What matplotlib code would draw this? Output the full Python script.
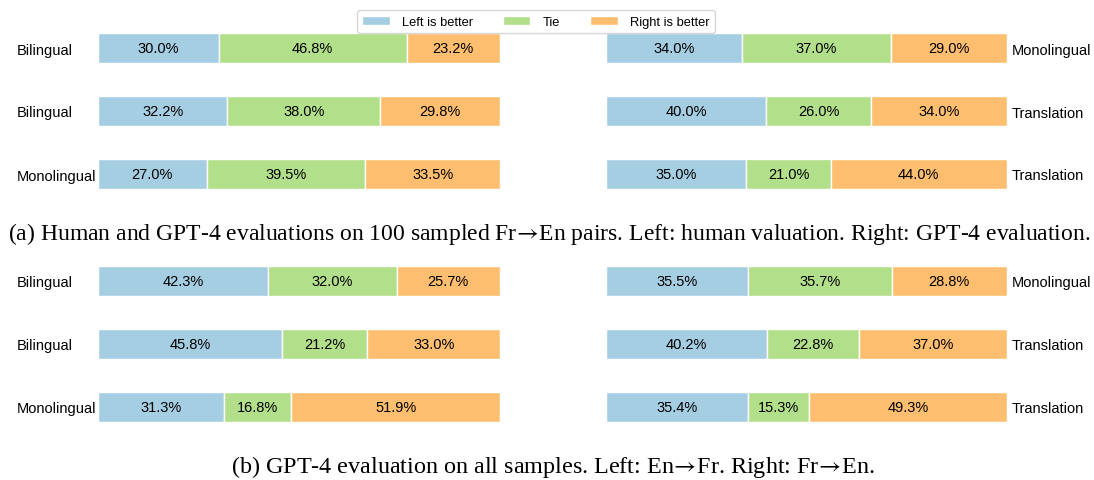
import matplotlib
matplotlib.use("Agg")
import matplotlib.pyplot as plt
import numpy as np

W, H = 1094, 481
plt.rcParams['font.family'] = ['Liberation Sans', 'DejaVu Sans']
plt.rcParams['mathtext.fontset'] = 'stix'

series_names = ["Left is better", "Tie", "Right is better"]
colors = ["#a6cee3", "#b2df8a", "#fdbf6f"]

# top row (a)
a_left_labels = ["Bilingual", "Bilingual", "Monolingual"]
a_left_left = [30.0, 32.2, 27.0]
a_left_tie = [46.8, 38.0, 39.5]
a_left_right = [23.2, 29.8, 33.5]

a_right_labels = ["Monolingual", "Translation", "Translation"]
a_right_left = [34.0, 40.0, 35.0]
a_right_tie = [37.0, 26.0, 21.0]
a_right_right = [29.0, 34.0, 44.0]

# bottom row (b)
b_left_labels = ["Bilingual", "Bilingual", "Monolingual"]
b_left_left = [42.3, 45.8, 31.3]
b_left_tie = [32.0, 21.2, 16.8]
b_left_right = [25.7, 33.0, 51.9]

b_right_labels = ["Monolingual", "Translation", "Translation"]
b_right_left = [35.5, 40.2, 35.4]
b_right_tie = [35.7, 22.8, 15.3]
b_right_right = [28.8, 37.0, 49.3]

arrow = r"$\!\rightarrow\!$"
caption_a = ("(a) Human and GPT-4 evaluations on 100 sampled Fr" + arrow +
             "En pairs. Left: human valuation. Right: GPT-4 evaluation.")
caption_b = ("(b) GPT-4 evaluation on all samples. Left: En" + arrow +
             "Fr. Right: Fr" + arrow + "En.")

fig = plt.figure(figsize=(W / 100, H / 100), dpi=100)


def px_axes(x0, x1, y0, y1):
    return fig.add_axes([x0 / W, 1 - y1 / H, (x1 - x0) / W, (y1 - y0) / H])


def draw(ax, labels, lv, tv, rv, side):
    y = np.arange(len(labels))
    h = 30 / 63
    left = np.zeros(len(labels))
    handles = []
    for vals, c, name in zip([lv, tv, rv], colors, series_names):
        vals = np.array(vals)
        b = ax.barh(y, vals, left=left, height=h, color=c, edgecolor="white",
                    linewidth=1.0, label=name)
        handles.append(b)
        for yi, l, v in zip(y, left, vals):
            ax.text(l + v / 2, yi, f"{v:.1f}%", ha="center", va="center",
                    fontsize=10.5, color="black")
        left = left + vals
    ax.set_xlim(0, 100)
    ax.set_ylim(len(labels) - 1 + h / 2, -h / 2)
    ax.set_yticks(y)
    ax.set_xticks([])
    for s in ax.spines.values():
        s.set_visible(False)
    if side == "left":
        ax.set_yticklabels(labels, ha="left", fontsize=10.5)
        ax.tick_params(axis="y", length=0, pad=81 * 0.72)
    else:
        ax.yaxis.tick_right()
        ax.set_yticklabels(labels, ha="left", fontsize=10.5)
        ax.tick_params(axis="y", length=0, pad=5 * 0.72)
    return handles


ax1 = px_axes(98, 500, 34, 190)
ax2 = px_axes(606, 1007, 34, 190)
ax3 = px_axes(98, 500, 267, 423)
ax4 = px_axes(606, 1007, 267, 423)

handles = draw(ax1, a_left_labels, a_left_left, a_left_tie, a_left_right, "left")
draw(ax2, a_right_labels, a_right_left, a_right_tie, a_right_right, "right")
draw(ax3, b_left_labels, b_left_left, b_left_tie, b_left_right, "left")
draw(ax4, b_right_labels, b_right_left, b_right_tie, b_right_right, "right")

fig.legend(handles=handles, labels=series_names, loc="upper center",
           bbox_to_anchor=(536 / W, 1 - 5 / H), ncol=3, fontsize=9.3,
           frameon=True, fancybox=True, edgecolor="#cccccc",
           columnspacing=2.35, borderpad=0.4, handletextpad=0.95,
           handlelength=2.1)

fig.text(8 / W, 1 - 240 / H, caption_a, ha="left", va="baseline",
         fontsize=17.0, family=["Liberation Serif", "DejaVu Serif"])
fig.text(553 / W, 1 - 473 / H, caption_b, ha="center", va="baseline",
         fontsize=17.4, family=["Liberation Serif", "DejaVu Serif"])

fig.savefig("out.png", dpi=100)
